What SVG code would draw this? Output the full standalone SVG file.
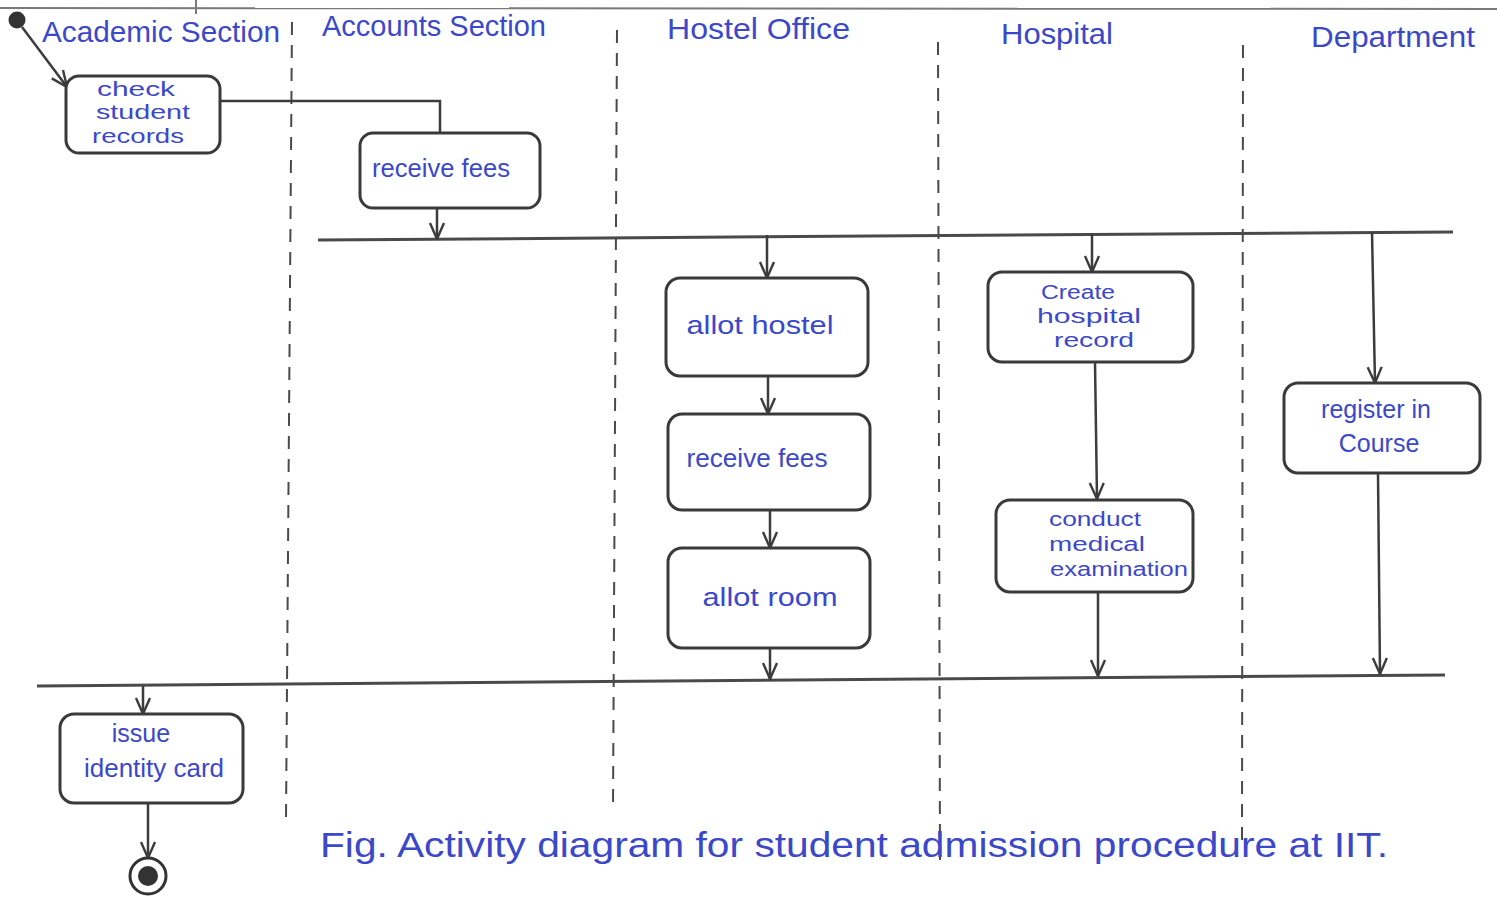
<svg xmlns="http://www.w3.org/2000/svg" width="1497" height="897" viewBox="0 0 1497 897">
  <style>
    .box { fill: #ffffff; stroke: #3a3a3a; stroke-width: 3; }
    .flow { fill: none; stroke: #3c3c3c; stroke-width: 2.5; }
    .bar { fill: none; stroke: #4a4a4a; stroke-width: 3; }
    .lane { fill: none; stroke: #4a4a4a; stroke-width: 2; stroke-dasharray: 13 10; }
    .lbl { font-family: "Liberation Sans", "DejaVu Sans", sans-serif; fill: #3b48c9; }
    .head { font-size: 29px; }
    .act { font-size: 25px; text-anchor: middle; }
    .small { font-size: 20px; }
    .cap { font-size: 35px; }
  </style>
  <defs>
    <marker id="arrow" viewBox="0 0 18 18" refX="17" refY="9" markerWidth="18" markerHeight="18" markerUnits="userSpaceOnUse" orient="auto">
      <path d="M1,2 L17,9 L1,16" fill="none" stroke="#3c3c3c" stroke-width="2.4" stroke-linejoin="miter"/>
    </marker>
  </defs>

  <rect width="1497" height="897" fill="#ffffff"/>

  <!-- page frame and swimlane dividers -->
  <g id="lanes">
    <line x1="0" y1="8" x2="1497" y2="9" stroke="#7a7a7a" stroke-width="2"/>
    <line x1="196" y1="0" x2="196" y2="14" stroke="#7a7a7a" stroke-width="2"/>
    <line class="lane" x1="292" y1="22" x2="286" y2="820"/>
    <line class="lane" x1="617" y1="30" x2="613" y2="812"/>
    <line class="lane" x1="938" y1="42" x2="940" y2="862"/>
    <line class="lane" x1="1243" y1="45" x2="1242" y2="840"/>
    <text class="lbl head" x="42" y="42" textLength="238" lengthAdjust="spacingAndGlyphs">Academic Section</text>
    <text class="lbl head" x="322" y="36" textLength="224" lengthAdjust="spacingAndGlyphs">Accounts Section</text>
    <text class="lbl head" x="667" y="39" textLength="183" lengthAdjust="spacingAndGlyphs">Hostel Office</text>
    <text class="lbl head" x="1001" y="44" textLength="112" lengthAdjust="spacingAndGlyphs">Hospital</text>
    <text class="lbl head" x="1311" y="47" textLength="164" lengthAdjust="spacingAndGlyphs">Department</text>
  </g>

  <!-- fork / join bars -->
  <g id="bars">
    <line class="bar" x1="318" y1="240" x2="1453" y2="232"/>
    <line class="bar" x1="37" y1="686" x2="1445" y2="675"/>
  </g>

  <!-- control flow -->
  <g id="connectors">
    <line class="flow" x1="22" y1="27" x2="67" y2="87" marker-end="url(#arrow)"/>
    <polyline class="flow" points="220,101 440,101 440,133"/>
    <line class="flow" x1="437" y1="208" x2="437" y2="239" marker-end="url(#arrow)"/>
    <line class="flow" x1="767" y1="235" x2="767" y2="278" marker-end="url(#arrow)"/>
    <line class="flow" x1="768" y1="376" x2="768" y2="414" marker-end="url(#arrow)"/>
    <line class="flow" x1="770" y1="510" x2="770" y2="548" marker-end="url(#arrow)"/>
    <line class="flow" x1="770" y1="648" x2="770" y2="679" marker-end="url(#arrow)"/>
    <line class="flow" x1="1092" y1="233" x2="1092" y2="272" marker-end="url(#arrow)"/>
    <line class="flow" x1="1095" y1="362" x2="1097" y2="499" marker-end="url(#arrow)"/>
    <line class="flow" x1="1098" y1="592" x2="1098" y2="676" marker-end="url(#arrow)"/>
    <line class="flow" x1="1372" y1="232" x2="1375" y2="383" marker-end="url(#arrow)"/>
    <line class="flow" x1="1378" y1="473" x2="1380" y2="674" marker-end="url(#arrow)"/>
    <line class="flow" x1="143" y1="686" x2="143" y2="714" marker-end="url(#arrow)"/>
    <line class="flow" x1="148" y1="803" x2="148" y2="858" marker-end="url(#arrow)"/>
  </g>

  <!-- initial and final states -->
  <g id="start">
    <circle cx="17" cy="20" r="8.5" fill="#333333"/>
  </g>
  <g id="end">
    <circle cx="148" cy="876" r="18" fill="#ffffff" stroke="#333333" stroke-width="3"/>
    <circle cx="148" cy="876" r="10" fill="#333333"/>
  </g>

  <!-- activities -->
  <g id="check-student-records">
    <rect class="box" x="66" y="76" width="154" height="77" rx="13"/>
    <text class="lbl act small" x="136" y="96" textLength="78" lengthAdjust="spacingAndGlyphs">check</text>
    <text class="lbl act small" x="143" y="119" textLength="94" lengthAdjust="spacingAndGlyphs">student</text>
    <text class="lbl act small" x="138" y="143" textLength="92" lengthAdjust="spacingAndGlyphs">records</text>
  </g>

  <g id="accounts-receive-fees">
    <rect class="box" x="360" y="133" width="180" height="75" rx="13"/>
    <text class="lbl act" x="441" y="177" textLength="138" lengthAdjust="spacingAndGlyphs">receive fees</text>
  </g>

  <g id="allot-hostel">
    <rect class="box" x="666" y="278" width="202" height="98" rx="14"/>
    <text class="lbl act" x="760" y="334" font-size="28" textLength="147" lengthAdjust="spacingAndGlyphs">allot hostel</text>
  </g>

  <g id="hostel-receive-fees">
    <rect class="box" x="668" y="414" width="202" height="96" rx="14"/>
    <text class="lbl act" x="757" y="467" font-size="27" textLength="141" lengthAdjust="spacingAndGlyphs">receive fees</text>
  </g>

  <g id="allot-room">
    <rect class="box" x="668" y="548" width="202" height="100" rx="14"/>
    <text class="lbl act" x="770" y="606" font-size="27" textLength="135" lengthAdjust="spacingAndGlyphs">allot room</text>
  </g>

  <g id="create-hospital-record">
    <rect class="box" x="988" y="272" width="205" height="90" rx="14"/>
    <text class="lbl act small" x="1078" y="299" textLength="74" lengthAdjust="spacingAndGlyphs">Create</text>
    <text class="lbl act small" x="1089" y="323" textLength="104" lengthAdjust="spacingAndGlyphs">hospital</text>
    <text class="lbl act small" x="1094" y="347" textLength="80" lengthAdjust="spacingAndGlyphs">record</text>
  </g>

  <g id="conduct-medical-examination">
    <rect class="box" x="996" y="500" width="197" height="92" rx="14"/>
    <text class="lbl act small" x="1095" y="526" textLength="92" lengthAdjust="spacingAndGlyphs">conduct</text>
    <text class="lbl act small" x="1097" y="551" textLength="96" lengthAdjust="spacingAndGlyphs">medical</text>
    <text class="lbl act small" x="1119" y="576" textLength="138" lengthAdjust="spacingAndGlyphs">examination</text>
  </g>

  <g id="register-in-course">
    <rect class="box" x="1284" y="383" width="196" height="90" rx="14"/>
    <text class="lbl act" x="1376" y="418" font-size="24">register in</text>
    <text class="lbl act" x="1379" y="452" font-size="24">Course</text>
  </g>

  <g id="issue-identity-card">
    <rect class="box" x="60" y="714" width="183" height="89" rx="14"/>
    <text class="lbl act" x="141" y="742" font-size="24">issue</text>
    <text class="lbl act" x="154" y="777" font-size="24" textLength="140" lengthAdjust="spacingAndGlyphs">identity card</text>
  </g>

  <!-- caption -->
  <text class="lbl cap" x="320" y="857" textLength="1068" lengthAdjust="spacingAndGlyphs">Fig. Activity diagram for student admission procedure at IIT.</text>
</svg>
